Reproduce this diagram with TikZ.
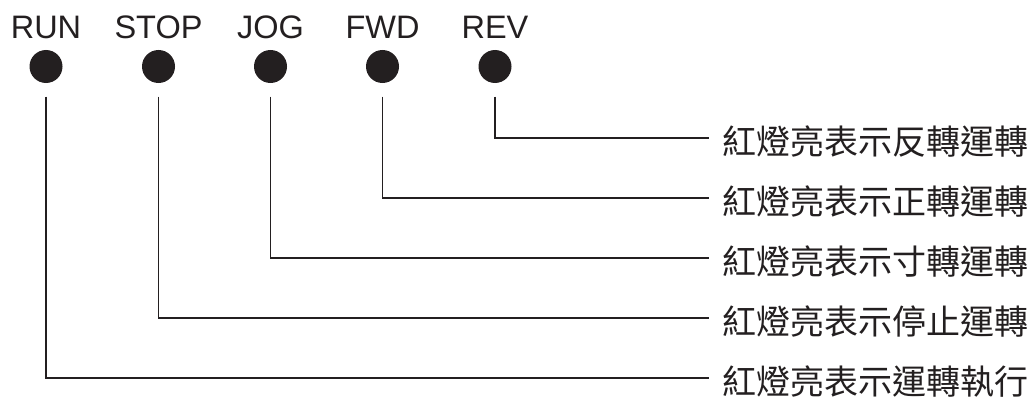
\documentclass[tikz,border=0pt]{standalone}
\usepackage{fontspec}
\setmainfont{Liberation Sans}
\newfontfamily\cjk{Noto Sans CJK TC}
\definecolor{ink}{HTML}{231F20}
\begin{document}
\begin{tikzpicture}[x=1pt,y=-1pt,
  lamp/.style={circle,fill=ink,inner sep=0pt,minimum size=33pt},
  lamplabel/.style={inner sep=0pt,anchor=base,font=\fontsize{32.5}{32.5}\selectfont,text=ink},
  desc/.style={inner sep=0pt,anchor=base west,text height=26pt,text depth=0pt,font=\cjk\fontsize{34}{34}\selectfont,text=ink},
  wire/.style={draw=ink,line width=1.7pt}]
\useasboundingbox (0,0) rectangle (1030,396);
\foreach \n/\x/\t in {run/46/RUN,stop/158.5/STOP,jog/270.5/JOG,fwd/382.5/FWD,rev/495/REV}{
  \node[lamp] (\n) at (\x,66.5) {};
  \node[lamplabel] (l\n) at (\x,38.5) {\t};
}
\node[desc] (drev)  at (722,154) {紅燈亮表示反轉運轉};
\node[desc] (dfwd)  at (722,214) {紅燈亮表示正轉運轉};
\node[desc] (djog)  at (722,274) {紅燈亮表示寸轉運轉};
\node[desc] (dstop) at (722,334) {紅燈亮表示停止運轉};
\node[desc] (drun)  at (722,394) {紅燈亮表示運轉執行};
\foreach \n in {run,stop,jog,fwd,rev}{
  \draw[wire] ([yshift=-13.5pt]\n.south) |- ([xshift=-13pt,yshift=16pt]d\n.base west);
}
\end{tikzpicture}
\end{document}
